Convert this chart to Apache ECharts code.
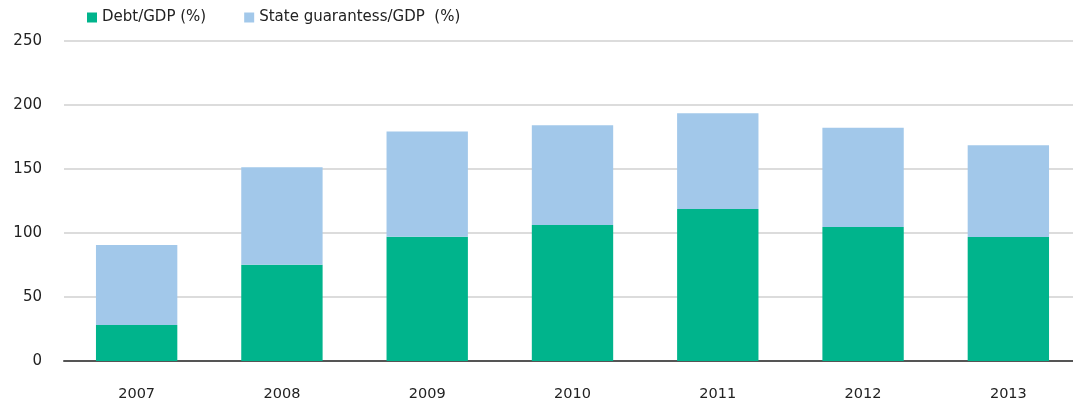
<!DOCTYPE html>
<html>
<head>
<meta charset="utf-8">
<script src="https://cdn.jsdelivr.net/npm/echarts@6/dist/echarts.min.js"></script>
<style>html,body{margin:0;padding:0;background:#fff;}#c{width:1073px;height:402px;}</style>
</head>
<body>
<div id="c"></div>
<script>
const categories = ['2007','2008','2009','2010','2011','2012','2013'];
const debtGDP = [28.1, 75.2, 97.1, 106.3, 118.8, 104.7, 96.9];
const guaranteesGDP = [62.5, 76.1, 82.1, 77.8, 74.7, 77.6, 71.6];
const seriesNames = ['Debt/GDP (%)', 'State guarantess/GDP  (%)'];

const chart = echarts.init(document.getElementById('c'), null, {renderer:'canvas'});
const font = 'DejaVu Sans';
chart.setOption({
  animation: false,
  textStyle: {fontFamily: font},
  legend: {
    left: 87, top: 10, padding: 0,
    itemWidth: 10, itemHeight: 10, itemGap: 38,
    icon: 'rect',
    textStyle: {fontSize: 15, color: '#222', fontFamily: font},
    data: seriesNames
  },
  grid: {left: 64, width: 1017, top: 41, bottom: 41, containLabel: false, outerBoundsMode: 'none'},
  xAxis: {
    type: 'category', data: categories,
    axisLine: {lineStyle: {color: '#555', width: 2}},
    axisTick: {show: false},
    axisLabel: {fontSize: 14.5, color: '#222', margin: 26, fontFamily: font}
  },
  yAxis: {
    type: 'value', min: 0, max: 250, interval: 50,
    axisLine: {show: false}, axisTick: {show: false},
    splitLine: {lineStyle: {color: '#dcdcdc', width: 2}},
    axisLabel: {fontSize: 15, color: '#222', margin: 22, fontFamily: font}
  },
  series: [
    {name: seriesNames[0], type: 'bar', stack: 't', data: debtGDP, barWidth: '56%',
     itemStyle: {color: '#00B48C'}},
    {name: seriesNames[1], type: 'bar', stack: 't', data: guaranteesGDP, barWidth: '56%',
     itemStyle: {color: '#A2C8EA'}}
  ]
});
</script>
</body>
</html>
